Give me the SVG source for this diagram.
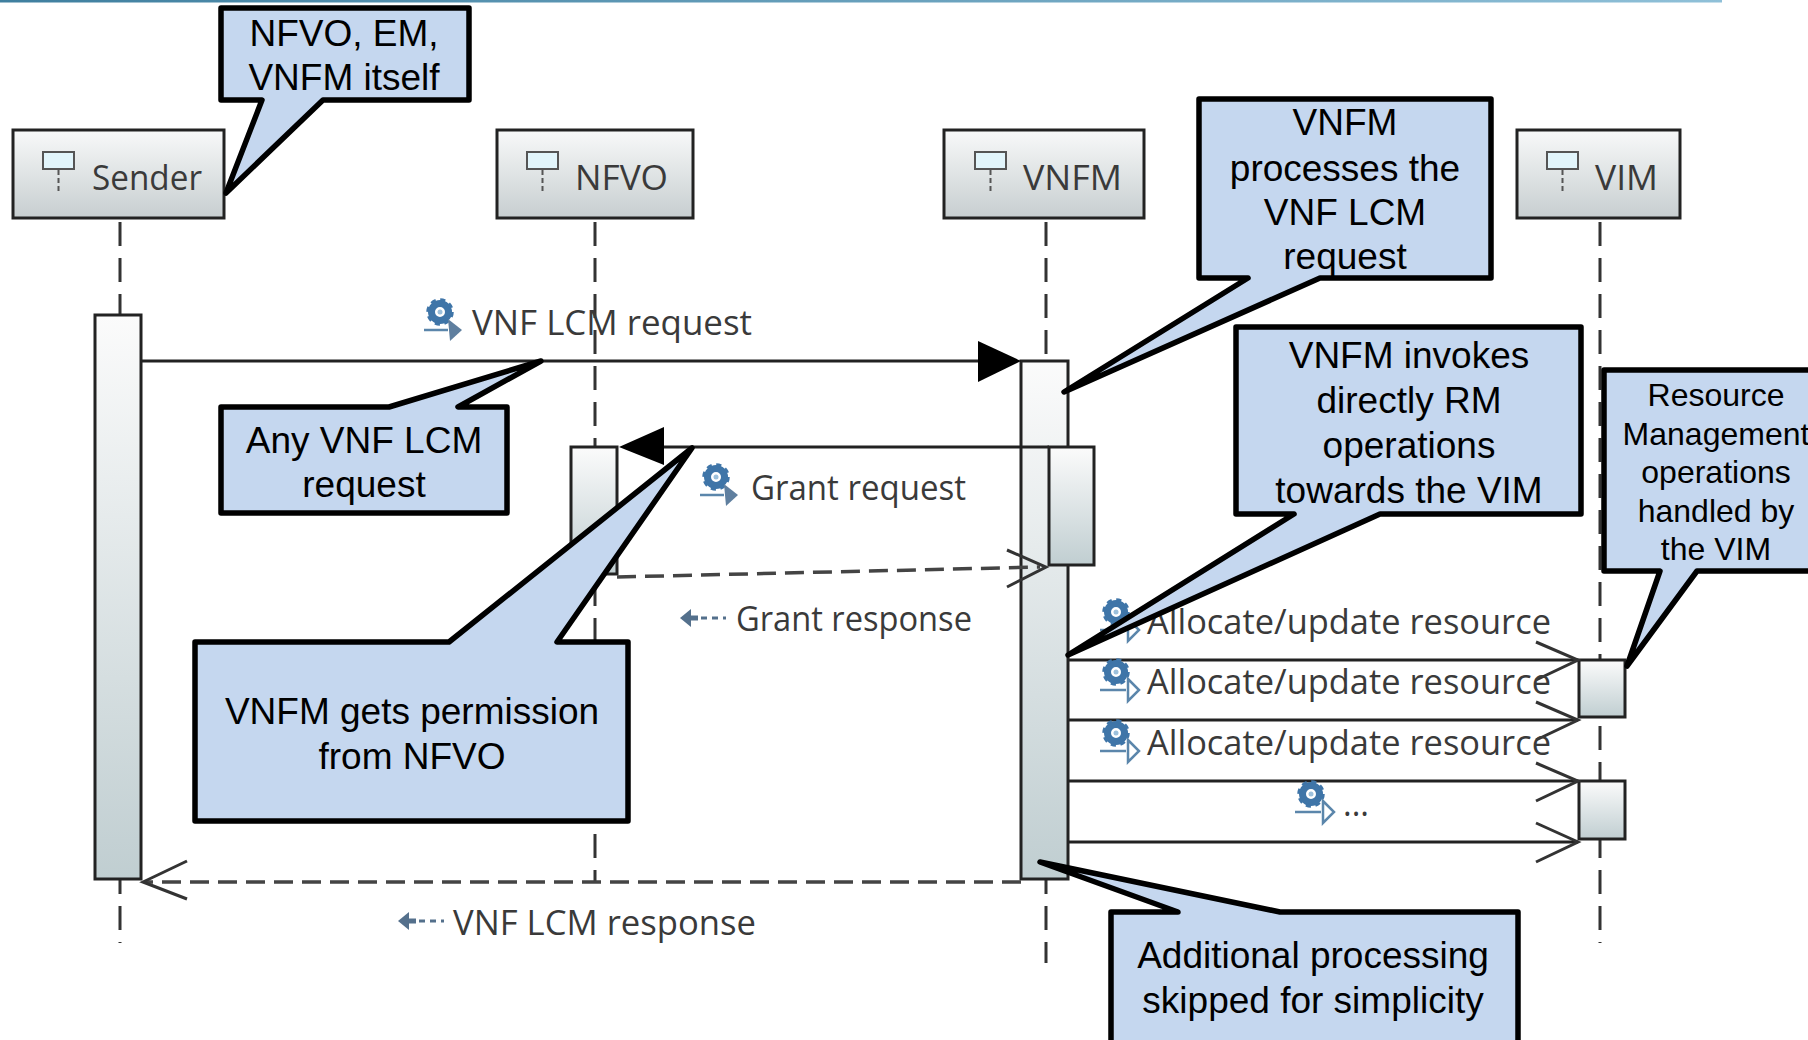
<svg xmlns="http://www.w3.org/2000/svg" xmlns:xlink="http://www.w3.org/1999/xlink" width="1808" height="1040" viewBox="0 0 1808 1040">
<style>
.box{stroke:#222;stroke-width:3}
.life{stroke:#333;stroke-width:3;stroke-dasharray:24 12;fill:none}
.act{stroke:#222;stroke-width:3}
.msg{stroke:#222;stroke-width:3;fill:none}
.dash{stroke:#444;stroke-width:3.5;fill:none;stroke-dasharray:19 9}
.head{stroke:#333;stroke-width:3;fill:none}
.lbl{font-family:"Open Sans","DejaVu Sans",sans-serif;font-size:34px;fill:#3a3a3a}
.call path{fill:#c5d7ef;stroke:#000;stroke-width:5.5;stroke-linejoin:round}
.call text{font-family:"Liberation Sans",Arial,sans-serif;font-size:37px;fill:#000;text-anchor:middle}
.small text{font-size:32px}
</style>
<defs>
<linearGradient id="boxG" x1="0" y1="0" x2="0" y2="1"><stop offset="0" stop-color="#f8f9f9"/><stop offset="1" stop-color="#c7ced0"/></linearGradient>
<linearGradient id="actG" x1="0" y1="0" x2="0" y2="1"><stop offset="0" stop-color="#fbfbfb"/><stop offset="1" stop-color="#c0ced1"/></linearGradient>
<linearGradient id="barG" x1="0" y1="0" x2="1" y2="0"><stop offset="0" stop-color="#3f7f9f"/><stop offset="1" stop-color="#8fc0d8"/></linearGradient>
<g id="gear"><circle r="8.5" fill="none" stroke="#3f75a8" stroke-width="7"/><circle r="12" fill="none" stroke="#3f75a8" stroke-width="3.5" stroke-dasharray="5 4.4"/><circle r="2.5" fill="#9cc0dc"/></g>
<g id="iconFilled"><use xlink:href="#gear"/><path d="M-16 18H8" stroke="#5b86ab" stroke-width="2.5" fill="none"/><path d="M8 7L22 18L10 29Z" fill="#5f7f9f"/></g>
<g id="iconHollow"><use xlink:href="#gear"/><path d="M-16 18H10" stroke="#5b86ab" stroke-width="2.5" fill="none"/><path d="M12 7L23 18L12 29Z" fill="#fff" stroke="#5b86ab" stroke-width="2.5"/></g>
<g id="iconReturn"><path d="M0 0L11 -9V9Z" fill="#54708c"/><path d="M10 0H46" stroke="#54708c" stroke-width="3" stroke-dasharray="6 5" fill="none"/><path d="M11 0H18" stroke="#54708c" stroke-width="5"/></g>
<g id="lifeIcon"><rect x="0" y="0" width="31" height="17" fill="#e2f5fb" stroke="#555" stroke-width="2"/><path d="M15.500 18V41" stroke="#555" stroke-width="2" stroke-dasharray="5 3"/></g>
</defs>
<rect width="1808" height="1040" fill="#fff"/>
<rect id="topbar" x="0" y="0" width="1722" height="2.500" fill="url(#barG)"/>

<g id="connectors-lifelines">
<path class="life" d="M120 222V943"/>
<path class="life" d="M595 222V882"/>
<path class="life" d="M1046 222V963"/>
<path class="life" d="M1600 222V943"/>
</g>

<g id="node-sender"><rect class="box" x="13" y="130" width="211" height="88" fill="url(#boxG)"/><use xlink:href="#lifeIcon" x="43" y="152"/><text class="lbl" x="92" y="190" textLength="110" lengthAdjust="spacingAndGlyphs">Sender</text></g>
<g id="node-nfvo"><rect class="box" x="497" y="130" width="196" height="88" fill="url(#boxG)"/><use xlink:href="#lifeIcon" x="527" y="152"/><text class="lbl" x="575" y="190" textLength="93" lengthAdjust="spacingAndGlyphs">NFVO</text></g>
<g id="node-vnfm"><rect class="box" x="944" y="130" width="200" height="88" fill="url(#boxG)"/><use xlink:href="#lifeIcon" x="975" y="152"/><text class="lbl" x="1023" y="190" textLength="99" lengthAdjust="spacingAndGlyphs">VNFM</text></g>
<g id="node-vim"><rect class="box" x="1517" y="130" width="163" height="88" fill="url(#boxG)"/><use xlink:href="#lifeIcon" x="1547" y="152"/><text class="lbl" x="1595" y="190" textLength="63" lengthAdjust="spacingAndGlyphs">VIM</text></g>

<g id="activations">
<rect id="act-sender" class="act" x="95" y="315" width="46" height="564" fill="url(#actG)"/>
<rect id="act-nfvo" class="act" x="571" y="447" width="46" height="127" fill="url(#actG)"/>
<rect id="act-vnfm" class="act" x="1021" y="361" width="47" height="518" fill="url(#actG)"/>
<rect id="act-vnfm2" class="act" x="1049" y="447" width="45" height="118" fill="url(#actG)"/>
<rect id="act-vim1" class="act" x="1579" y="660" width="46" height="57" fill="url(#actG)"/>
<rect id="act-vim2" class="act" x="1579" y="781" width="46" height="58" fill="url(#actG)"/>
</g>

<g id="connectors">
<path class="msg" d="M141 361H985"/><path d="M1021 361L978 341V382Z" fill="#000"/>
<path class="msg" d="M1049 447H650"/><path d="M619 447L664 427V465Z" fill="#000"/>
<path class="dash" d="M617 577L1040 567"/><path class="head" d="M1007 550L1046 567L1007 587"/>
<path class="msg" d="M1068 660H1578"/><path class="head" d="M1536 642L1578 660L1536 680"/>
<path class="msg" d="M1068 720H1578"/><path class="head" d="M1536 702L1578 720L1536 740"/>
<path class="msg" d="M1068 781H1578"/><path class="head" d="M1536 763L1578 781L1536 801"/>
<path class="msg" d="M1068 842H1578"/><path class="head" d="M1536 823L1578 842L1536 862"/>
<path class="dash" d="M1021 882H145"/><path class="head" d="M187 861L143 882L187 899"/>
</g>

<g id="labels">
<use xlink:href="#iconFilled" x="440" y="312"/><text class="lbl" x="472" y="335" textLength="280" lengthAdjust="spacingAndGlyphs">VNF LCM request</text>
<use xlink:href="#iconFilled" x="716" y="477"/><text class="lbl" x="751" y="500" textLength="215" lengthAdjust="spacingAndGlyphs">Grant request</text>
<use xlink:href="#iconReturn" x="680" y="618"/><text class="lbl" x="736" y="631" textLength="236" lengthAdjust="spacingAndGlyphs">Grant response</text>
<use xlink:href="#iconHollow" x="1116" y="612"/><text class="lbl" x="1147" y="634" textLength="404" lengthAdjust="spacingAndGlyphs">Allocate/update resource</text>
<use xlink:href="#iconHollow" x="1116" y="672"/><text class="lbl" x="1147" y="694" textLength="404" lengthAdjust="spacingAndGlyphs">Allocate/update resource</text>
<use xlink:href="#iconHollow" x="1116" y="733"/><text class="lbl" x="1147" y="755" textLength="404" lengthAdjust="spacingAndGlyphs">Allocate/update resource</text>
<use xlink:href="#iconHollow" x="1311" y="794"/><text class="lbl" x="1343" y="816" textLength="26" lengthAdjust="spacingAndGlyphs">...</text>
<use xlink:href="#iconReturn" x="398" y="921"/><text class="lbl" x="453" y="935" textLength="303" lengthAdjust="spacingAndGlyphs">VNF LCM response</text>
</g>

<g id="callout-sender" class="call"><path d="M221 8H469V100H323L226 193L262 100H221Z"/><text x="344" y="46">NFVO, EM,</text><text x="344" y="90">VNFM itself</text></g>
<g id="callout-any" class="call"><path d="M221 407H389L541 361L458 407H507V513H221Z"/><text x="364" y="453">Any VNF LCM</text><text x="364" y="497">request</text></g>
<g id="callout-permission" class="call"><path d="M195 642H449L692 448L557 642H628V821H195Z"/><text x="412" y="724">VNFM gets permission</text><text x="412" y="769">from NFVO</text></g>
<g id="callout-processes" class="call"><path d="M1199 99H1491V278H1320L1064 392L1248 278H1199Z"/><text x="1345" y="135">VNFM</text><text x="1345" y="181">processes the</text><text x="1345" y="225">VNF LCM</text><text x="1345" y="269">request</text></g>
<g id="callout-invokes" class="call"><path d="M1236 327H1581V514H1380L1068 655L1294 514H1236Z"/><text x="1409" y="368">VNFM invokes</text><text x="1409" y="413">directly RM</text><text x="1409" y="458">operations</text><text x="1409" y="503">towards the VIM</text></g>
<g id="callout-resource" class="call small"><path d="M1604 370H1815V571H1697L1627 666L1660 571H1604Z"/><text x="1716" y="406">Resource</text><text x="1716" y="445">Management</text><text x="1716" y="483">operations</text><text x="1716" y="522">handled by</text><text x="1716" y="560">the VIM</text></g>
<g id="callout-additional" class="call"><path d="M1111 912H1178L1040 862L1280 912H1518V1050H1111Z"/><text x="1313" y="968">Additional processing</text><text x="1313" y="1013">skipped for simplicity</text></g>
</svg>
